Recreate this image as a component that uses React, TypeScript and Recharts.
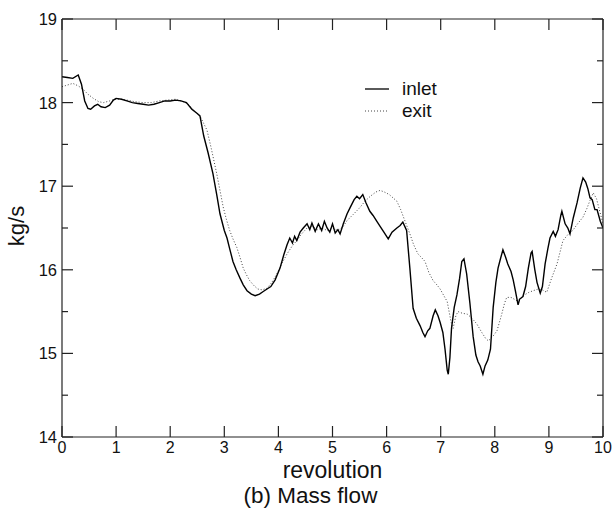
import React from 'react';
import { LineChart, Line, XAxis, YAxis, Legend } from 'recharts';

const FONT = '"Liberation Sans", Arial, Helvetica, sans-serif';

// revolution vs mass flow
const inletX = [
  0, 0.1, 0.2, 0.3, 0.36, 0.42, 0.48, 0.53, 0.6, 0.66, 0.72, 0.8, 0.88, 0.95, 1.0, 1.1, 1.2, 1.3, 1.4, 1.5,
  1.6, 1.7, 1.8, 1.9, 2.0, 2.1, 2.2, 2.3, 2.4, 2.5, 2.55, 2.62, 2.7, 2.79, 2.86, 2.92, 3.0, 3.05, 3.1, 3.16,
  3.22, 3.29, 3.35, 3.42, 3.5, 3.57, 3.65, 3.72, 3.79, 3.86, 3.94, 4.03, 4.1, 4.16, 4.21, 4.26, 4.3, 4.34, 4.4, 4.46,
  4.53, 4.58, 4.62, 4.68, 4.74, 4.8, 4.85, 4.9, 4.95, 5.0, 5.05, 5.1, 5.14, 5.2, 5.27, 5.33, 5.4, 5.45, 5.5, 5.56,
  5.62, 5.69, 5.75, 5.82, 5.88, 5.95, 6.03, 6.1, 6.19, 6.25, 6.3, 6.37, 6.43, 6.49, 6.55, 6.62, 6.67, 6.71, 6.76, 6.8,
  6.86, 6.9, 6.95, 6.99, 7.04, 7.08, 7.12, 7.14, 7.17, 7.2, 7.25, 7.3, 7.35, 7.39, 7.43, 7.48, 7.54, 7.6, 7.65, 7.69,
  7.73, 7.78, 7.82, 7.87, 7.92, 7.97, 8.02, 8.06, 8.1, 8.15, 8.2, 8.24, 8.3, 8.34, 8.38, 8.43, 8.46, 8.52, 8.57, 8.62,
  8.67, 8.69, 8.74, 8.78, 8.84, 8.88, 8.93, 8.98, 9.02, 9.08, 9.12, 9.17, 9.22, 9.24, 9.3, 9.35, 9.39, 9.45, 9.52, 9.58,
  9.63, 9.68, 9.72, 9.76, 9.8, 9.85, 9.89, 9.95, 10.0,
];
const inletY = [
  18.31, 18.3, 18.29, 18.33, 18.22, 18.02, 17.93, 17.92, 17.96, 17.98, 17.95, 17.94, 17.97, 18.03, 18.05, 18.04, 18.02, 18.0, 17.99, 17.98,
  17.97, 17.98, 18.0, 18.02, 18.02, 18.03, 18.02, 18.0, 17.92, 17.87, 17.84, 17.6, 17.4, 17.15, 16.9, 16.67, 16.47, 16.38, 16.25, 16.1,
  16.0, 15.9, 15.82, 15.75, 15.71, 15.69, 15.71, 15.74, 15.77, 15.8, 15.88, 16.02, 16.18, 16.3, 16.38, 16.32, 16.4, 16.35, 16.45, 16.5,
  16.55, 16.48, 16.56, 16.46, 16.55, 16.47, 16.58, 16.5, 16.45, 16.55, 16.44, 16.48, 16.43, 16.55, 16.67, 16.75, 16.84, 16.88, 16.85, 16.9,
  16.8, 16.7, 16.65, 16.58, 16.52, 16.45, 16.37, 16.45, 16.5, 16.53, 16.57, 16.47, 16.02, 15.54, 15.42, 15.33, 15.25, 15.2, 15.27, 15.3,
  15.45, 15.52, 15.45, 15.37, 15.25, 15.05, 14.8, 14.75, 14.95, 15.3, 15.55, 15.7, 15.9, 16.1, 16.13, 15.95, 15.6, 15.2, 14.98, 14.9,
  14.85, 14.75, 14.85, 14.92, 15.05, 15.55, 15.85, 16.02, 16.12, 16.24, 16.15, 16.07, 15.98, 15.88, 15.75, 15.58, 15.65, 15.68, 15.8, 16.02,
  16.2, 16.22, 16.0, 15.85, 15.72, 15.8, 16.07, 16.25, 16.38, 16.46, 16.4, 16.48, 16.65, 16.7, 16.55, 16.5, 16.43, 16.62, 16.8, 16.98,
  17.1, 17.05, 16.97, 16.86, 16.84, 16.72, 16.72, 16.58, 16.5,
];

const exitX = [
  0, 0.1, 0.2, 0.3, 0.39, 0.48, 0.58, 0.68, 0.77, 0.88, 0.98, 1.1, 1.2, 1.35, 1.5, 1.65, 1.8, 1.95, 2.1, 2.25,
  2.35, 2.45, 2.55, 2.62, 2.68, 2.76, 2.86, 2.92, 2.98, 3.04, 3.1, 3.16, 3.23, 3.29, 3.35, 3.41, 3.47, 3.55, 3.62, 3.7,
  3.79, 3.88, 3.97, 4.06, 4.16, 4.25, 4.34, 4.43, 4.53, 4.62, 4.72, 4.81, 4.9, 5.0, 5.1, 5.2, 5.27, 5.38, 5.5, 5.6,
  5.7, 5.8, 5.88, 5.96, 6.05, 6.12, 6.19, 6.26, 6.33, 6.43, 6.5, 6.58, 6.64, 6.71, 6.78, 6.86, 6.93, 6.99, 7.05, 7.12,
  7.17, 7.2, 7.23, 7.28, 7.32, 7.4, 7.49, 7.58, 7.67, 7.76, 7.83, 7.88, 7.96, 8.04, 8.12, 8.18, 8.22, 8.3, 8.41, 8.47,
  8.55, 8.63, 8.71, 8.8, 8.88, 8.96, 9.05, 9.15, 9.26, 9.35, 9.44, 9.53, 9.63, 9.7, 9.76, 9.82, 9.88, 9.94, 10.0,
];
const exitY = [
  18.19, 18.21, 18.23, 18.2, 18.16, 18.1, 18.05, 18.01, 18.0, 18.02, 18.04, 18.04, 18.03, 18.01, 18.0, 18.0, 18.02, 18.03, 18.04, 18.01,
  17.97, 17.9, 17.84, 17.75, 17.67, 17.45, 17.15, 16.95, 16.75, 16.6, 16.47, 16.37, 16.27, 16.15, 16.02, 15.94, 15.87, 15.81, 15.77, 15.76,
  15.78, 15.85, 15.95, 16.07, 16.19, 16.28, 16.35, 16.43, 16.5, 16.52, 16.48, 16.5, 16.47, 16.5, 16.47, 16.52, 16.59, 16.66, 16.74, 16.82,
  16.88, 16.93, 16.95, 16.93, 16.9, 16.86, 16.82, 16.72, 16.6, 16.43, 16.3, 16.19, 16.15, 16.1, 15.97, 15.87, 15.82, 15.77, 15.7, 15.62,
  15.45, 15.35, 15.3, 15.45, 15.5, 15.48, 15.47, 15.42, 15.35, 15.25, 15.18, 15.15, 15.2, 15.27, 15.45, 15.6, 15.67, 15.67, 15.63, 15.65,
  15.7, 15.73, 15.75, 15.77, 15.76, 15.73, 15.9, 16.07, 16.35, 16.42, 16.47, 16.55, 16.63, 16.73, 16.83, 16.92, 16.85, 16.7, 16.55,
];

const xTicks = [0, 1, 2, 3, 4, 5, 6, 7, 8, 9, 10];
const yTicks = [14, 14.5, 15, 15.5, 16, 16.5, 17, 17.5, 18, 18.5, 19];

const inletData = inletX.map((x, i) => ({ x, y: inletY[i] }));
const exitData = exitX.map((x, i) => ({ x, y: exitY[i] }));

const AXIS = '#222';

const BottomTick = (props: any) => {
  const { x, y, payload } = props;
  return (
    <g>
      <line x1={x} x2={x} y1={y} y2={y - 11} stroke={AXIS} strokeWidth={1.2} />
      <text x={x} y={y + 16} textAnchor="middle" fontSize={16} fontFamily={FONT} fill="#111">
        {payload.value}
      </text>
    </g>
  );
};

const TopTick = (props: any) => {
  const { x, y } = props;
  return <line x1={x} x2={x} y1={y} y2={y + 11} stroke={AXIS} strokeWidth={1.2} />;
};

const LeftTick = (props: any) => {
  const { x, y, payload } = props;
  const major = Number.isInteger(payload.value);
  return (
    <g>
      <line x1={x} x2={x + (major ? 11 : 6)} y1={y} y2={y} stroke={AXIS} strokeWidth={1.2} />
      {major && (
        <text x={x - 5} y={y + 6} textAnchor="end" fontSize={16.5} fontFamily={FONT} fill="#111">
          {payload.value}
        </text>
      )}
    </g>
  );
};

const RightTick = (props: any) => {
  const { x, y, payload } = props;
  const major = Number.isInteger(payload.value);
  return <line x1={x} x2={x - (major ? 11 : 6)} y1={y} y2={y} stroke={AXIS} strokeWidth={1.2} />;
};

const renderLegend = () => (
  <div style={{ fontFamily: FONT, fontSize: 19, color: '#111', lineHeight: '22px' }}>
    <div style={{ display: 'flex', alignItems: 'center' }}>
      <svg width={37} height={22}>
        <line x1={0} x2={24} y1={11} y2={11} stroke="#000" strokeWidth={1.3} />
      </svg>
      <span>inlet</span>
    </div>
    <div style={{ display: 'flex', alignItems: 'center' }}>
      <svg width={37} height={22}>
        <line x1={0} x2={24} y1={11} y2={11} stroke="#444" strokeWidth={1} strokeDasharray="1 2" />
      </svg>
      <span>exit</span>
    </div>
  </div>
);

const XLabel = (props: any) => {
  const vb = props.viewBox;
  const cx = vb.x + vb.width / 2;
  return (
    <g fontFamily={FONT} fill="#111">
      <text x={cx} y={vb.y + 41} textAnchor="middle" fontSize={23}>revolution</text>
      <text x={cx - 22} y={vb.y + 66} textAnchor="middle" fontSize={22.5}>(b) Mass flow</text>
    </g>
  );
};

const YLabel = (props: any) => {
  const vb = props.viewBox;
  const cy = vb.y + vb.height / 2 - 2;
  return (
    <text x={24} y={cy} transform={`rotate(-90, 24, ${cy})`} textAnchor="middle" fontSize={22} fontFamily={FONT} fill="#111">
      kg/s
    </text>
  );
};

export default function App() {
  return (
    <div style={{ position: 'absolute', left: 0, top: 0, background: '#fff' }}>
      <LineChart width={614} height={510} margin={{ top: 0, right: 0, bottom: 0, left: 0 }}>
        <XAxis
          xAxisId="b"
          dataKey="x"
          type="number"
          domain={[0, 10]}
          ticks={xTicks}
          interval={0}
          height={73}
          tickSize={0}
          tickMargin={0}
          tick={<BottomTick />}
          stroke={AXIS}
          strokeWidth={1.2}
          label={<XLabel />}
          allowDataOverflow
        />
        <XAxis
          xAxisId="t"
          orientation="top"
          dataKey="x"
          type="number"
          domain={[0, 10]}
          ticks={xTicks}
          interval={0}
          height={19}
          tickSize={0}
          tickMargin={0}
          tick={<TopTick />}
          stroke={AXIS}
          strokeWidth={1.2}
          allowDataOverflow
        />
        <YAxis
          yAxisId="l"
          type="number"
          domain={[14, 19]}
          ticks={yTicks}
          interval={0}
          width={62}
          tickSize={0}
          tickMargin={0}
          tick={<LeftTick />}
          stroke={AXIS}
          strokeWidth={1.2}
          label={<YLabel />}
          allowDataOverflow
        />
        <YAxis
          yAxisId="r"
          orientation="right"
          type="number"
          domain={[14, 19]}
          ticks={yTicks}
          interval={0}
          width={11}
          tickSize={0}
          tickMargin={0}
          tick={<RightTick />}
          stroke={AXIS}
          strokeWidth={1.2}
          allowDataOverflow
        />
        <Legend
          content={renderLegend}
          layout="vertical"
          verticalAlign="middle"
          align="center"
          wrapperStyle={{ position: 'absolute', left: 365, top: 78, width: 'auto', height: 'auto' }}
        />
        <Line
          xAxisId="b"
          yAxisId="l"
          data={exitData}
          dataKey="y"
          name="exit"
          type="linear"
          stroke="#444"
          strokeWidth={1}
          strokeDasharray="1 2"
          dot={false}
          isAnimationActive={false}
        />
        <Line
          xAxisId="b"
          yAxisId="l"
          data={inletData}
          dataKey="y"
          name="inlet"
          type="linear"
          stroke="#000"
          strokeWidth={1.4}
          dot={false}
          isAnimationActive={false}
        />
      </LineChart>
    </div>
  );
}
